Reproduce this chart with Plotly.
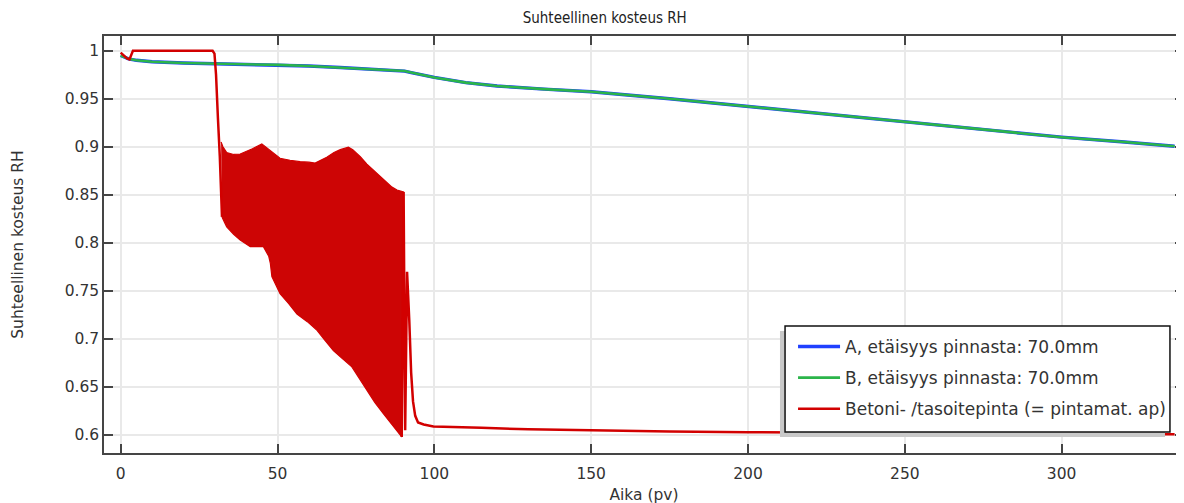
import plotly.graph_objects as go

# ---- data ----
# Point A and point B (identical curves, B drawn on top of A)
time_b = [0, 2.5, 5, 10, 20, 30, 40, 50, 60, 70, 80, 88, 90.5, 93, 96, 100,
          110, 120, 135, 150, 175, 200, 225, 250, 275, 300, 320, 336]
rh_b = [0.995, 0.9915, 0.990, 0.9885, 0.9872, 0.9866, 0.9860, 0.9852, 0.9840,
        0.9825, 0.9810, 0.9795, 0.9788, 0.9770, 0.9748, 0.9722, 0.9668, 0.9632,
        0.9600, 0.9572, 0.9500, 0.9420, 0.9340, 0.9260, 0.9180, 0.9100, 0.9050, 0.9005]
time_a = list(time_b)
rh_a = list(rh_b)

# Surface (red) before the oscillating stretch
red_t1 = [0, 1, 2, 2.8, 3.3, 3.9, 10, 20, 29.3, 29.9, 30.4, 31.0, 31.6, 32.3]
red_rh1 = [0.998, 0.995, 0.992, 0.991, 0.995, 1.0, 1.0, 1.0, 1.0, 0.997, 0.975,
           0.93, 0.89, 0.827]
# Surface (red) after the oscillating stretch
red_t2 = [89.6, 90.2, 90.7, 91.3, 92.0, 92.6, 93.2, 93.9, 94.8, 96.6, 99.7, 107,
          115, 130, 146.5, 175, 200, 250, 300, 336]
red_rh2 = [0.598, 0.853, 0.605, 0.770, 0.720, 0.665, 0.635, 0.620, 0.613, 0.611,
           0.609, 0.608, 0.6075, 0.606, 0.605, 0.6038, 0.603, 0.6018, 0.6012, 0.6008]

# Envelope of the fast oscillation (upper and lower limits)
osc_upper_t = [32.0, 32.6, 33.8, 36, 38.1, 40, 42, 45, 47, 50.8, 54, 57.2, 60, 62,
               65.7, 68, 70, 72.6, 74, 76.4, 78.5, 80.6, 82.8, 84.9, 86.5, 88.1, 90.2]
osc_upper_rh = [0.905, 0.900, 0.894, 0.892, 0.8925, 0.895, 0.898, 0.903, 0.898,
                0.888, 0.886, 0.8845, 0.884, 0.883, 0.889, 0.894, 0.897, 0.8995,
                0.897, 0.8896, 0.882, 0.8757, 0.869, 0.8635, 0.858, 0.855, 0.853]
osc_lower_t = [32.3, 33.0, 33.8, 36, 38.1, 41.3, 45.5, 47.2, 47.7, 48.2, 50.8, 53.5,
               56.2, 59.5, 62.6, 65, 67.8, 70.5, 73.7, 76, 78.5, 81, 83.8, 86.5,
               89.1, 89.6]
osc_lower_rh = [0.827, 0.822, 0.8167, 0.809, 0.803, 0.796, 0.796, 0.786, 0.779,
                0.765, 0.747, 0.737, 0.726, 0.718, 0.709, 0.699, 0.688, 0.680,
                0.671, 0.659, 0.6466, 0.634, 0.622, 0.610, 0.600, 0.598]

x_ticks = [0, 50, 100, 150, 200, 250, 300]
y_ticks = [0.6, 0.65, 0.7, 0.75, 0.8, 0.85, 0.9, 0.95, 1.0]
y_ticktext = ["0.6", "0.65", "0.7", "0.75", "0.8", "0.85", "0.9", "0.95", "1"]

names = ["A, etäisyys pinnasta: 70.0mm",
         "B, etäisyys pinnasta: 70.0mm",
         "Betoni- /tasoitepinta (= pintamat. ap)"]

RED = "rgb(210,0,0)"
GREEN = "#2bb54a"
BLUE = "#2040ff"

fig = go.Figure()

fig.add_trace(go.Scatter(x=time_a, y=rh_a, mode="lines", name=names[0],
                         line=dict(color=BLUE, width=3.4), legendgroup="a"))
fig.add_trace(go.Scatter(x=time_b, y=rh_b, mode="lines", name=names[1],
                         line=dict(color=GREEN, width=2.6), legendgroup="b"))

# oscillation band
band_t = osc_upper_t + osc_lower_t[::-1]
band_rh = osc_upper_rh + osc_lower_rh[::-1]
fig.add_trace(go.Scatter(x=band_t, y=band_rh, mode="lines", fill="toself",
                         fillcolor="rgb(205,5,5)", line=dict(color=RED, width=1.2),
                         showlegend=False, hoverinfo="skip", legendgroup="c"))

fig.add_trace(go.Scatter(x=red_t1 + [None] + red_t2, y=red_rh1 + [None] + red_rh2,
                         mode="lines", name=names[2], legendgroup="c",
                         line=dict(color=RED, width=2.5)))

axis_common = dict(showgrid=True, gridcolor="#e9e9e9", gridwidth=2,
                   showline=True, linecolor="#454545", linewidth=1.5,
                   mirror="ticks", ticks="inside", ticklen=9, tickwidth=1.5,
                   tickcolor="#454545", zeroline=False, automargin=False,
                   tickfont=dict(family="DejaVu Sans", size=15.5, color="#333"))

fig.update_xaxes(range=[-5.32, 339.0], tickvals=x_ticks, ticklabelstandoff=6,
                 title=dict(text="Aika (pv)", standoff=7,
                            font=dict(family="DejaVu Sans", size=15.5, color="#333")),
                 **axis_common)
fig.update_yaxes(range=[0.5813, 1.0153], tickvals=y_ticks, ticktext=y_ticktext,
                 title=dict(text="Suhteellinen kosteus RH", standoff=37,
                            font=dict(family="DejaVu Sans", size=15.5, color="#333")),
                 **axis_common)

# legend shadow and legend frame
fig.add_shape(type="rect", xref="paper", yref="paper",
              x0=0.6259, x1=0.9824, y0=0.0384, y1=0.2926,
              fillcolor="#c9c9c9", line=dict(width=0), layer="above")
fig.add_shape(type="rect", xref="paper", yref="paper",
              x0=0.6306, x1=0.987, y0=0.0504, y1=0.3046,
              fillcolor="white", line=dict(width=1.5, color="#111"), layer="above")

# page body has an 8 px margin: compensate so the plot sits where the reference has it
fig.update_layout(
    width=1184, height=503,
    margin=dict(l=96, r=8, t=28, b=58),
    paper_bgcolor="white", plot_bgcolor="white",
    font=dict(family="DejaVu Sans", size=15.5, color="#333"),
    title=dict(text="Suhteellinen kosteus RH", x=0.504, xanchor="center",
               y=1 - 10 / 503, yanchor="middle",
               font=dict(family="DejaVu Sans Condensed", size=15, color="#222")),
    legend=dict(x=0.638, y=0.2974, xanchor="left", yanchor="top",
                bgcolor="rgba(0,0,0,0)", borderwidth=0,
                font=dict(family="DejaVu Sans", size=17, color="#333"),
                itemwidth=42,
                traceorder="grouped", tracegroupgap=6),
    showlegend=True,
)

fig.write_html("out.html")
